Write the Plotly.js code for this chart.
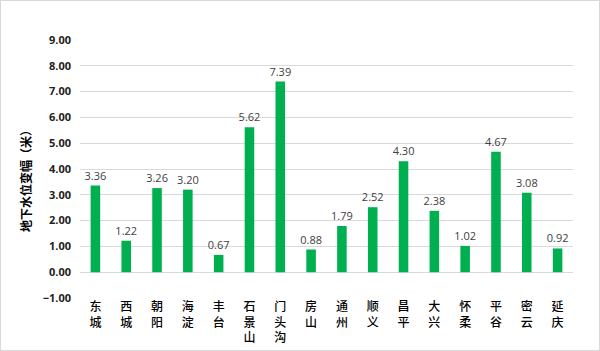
<!DOCTYPE html>
<html><head><meta charset="utf-8">
<script src="https://cdn.plot.ly/plotly-3.0.1.min.js"></script>
<style>
html,body{margin:0;padding:0;background:#fff;}
#chart{width:598px;height:349px;border:1px solid #d9d9d9;}
</style></head>
<body><div id="chart"></div>
<script>
const districts = ["东城","西城","朝阳","海淀","丰台","石景山","门头沟","房山","通州","顺义","昌平","大兴","怀柔","平谷","密云","延庆"];
const changes = [3.36,1.22,3.26,3.20,0.67,5.62,7.39,0.88,1.79,2.52,4.30,2.38,1.02,4.67,3.08,0.92];
const yTitle = "地下水位变幅（米）";

const tickLabels = districts.map(d => d.split("").join("<br>"));
const FONT = '"Open Sans", "Noto Sans CJK SC", sans-serif';

Plotly.newPlot("chart", [{
  type: "bar",
  x: districts,
  y: changes,
  marker: {color: "#00B050"},
  text: changes.map(v => v.toFixed(2)),
  textposition: "outside",
  constraintext: "none",
  textfont: {size: 11, color: "#404040", family: FONT},
  cliponaxis: false,
  hoverinfo: "none"
}], {
  width: 598, height: 349,
  margin: {l: 79, r: 26, t: 39, b: 52},
  paper_bgcolor: "#fff", plot_bgcolor: "#fff",
  bargap: 0.69,
  showlegend: false,
  font: {family: FONT, color: "#000"},
  xaxis: {
    tickmode: "array", tickvals: districts, ticktext: tickLabels,
    tickfont: {size: 12, family: '"Noto Sans CJK SC", sans-serif', color: "#000", weight: 500},
    showgrid: false, showline: false, ticks: "", ticklen: 0,
    tickangle: 0, fixedrange: true
  },
  yaxis: {
    range: [-1, 9], dtick: 1, tick0: 0, tickformat: ".2f",
    tickfont: {size: 11, color: "#222", family: FONT, weight: "bold"},
    gridcolor: "#d9d9d9", gridwidth: 1,
    zeroline: true, zerolinecolor: "#d9d9d9", zerolinewidth: 1,
    showline: false, ticks: "", ticklabelstandoff: 8
  },
  annotations: [{
    text: yTitle, textangle: -90, showarrow: false,
    xref: "paper", yref: "paper", x: 0, y: 0.465,
    xanchor: "center", yanchor: "middle", xshift: -55,
    font: {size: 12, family: '"Noto Sans CJK SC", sans-serif', color: "#000", weight: "bold"}
  }]
}, {displayModeBar: false, staticPlot: true});
</script></body></html>
